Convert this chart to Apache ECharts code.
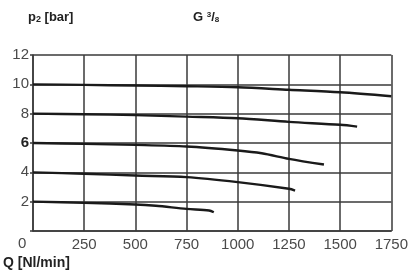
<!DOCTYPE html>
<html><head><meta charset="utf-8">
<script src="https://cdn.jsdelivr.net/npm/echarts@6/dist/echarts.min.js"></script>
<style>html,body{margin:0;padding:0;background:#fff}#c{width:411px;height:275px}</style>
</head><body><div id="c"></div>
<script>
const xTicks = [0, 250, 500, 750, 1000, 1250, 1500, 1750];
const yTicks = [0, 2, 4, 6, 8, 10, 12];
const flowQ = {
  p10: [0, 250, 500, 750, 1000, 1250, 1500, 1750],
  p8: [0, 250, 500, 750, 1000, 1250, 1500, 1583],
  p6: [0, 250, 500, 750, 1000, 1117, 1250, 1421],
  p4: [0, 250, 500, 750, 1000, 1250, 1280],
  p2: [0, 250, 500, 600, 750, 860, 883]
};
const p10 = [10, 9.96, 9.92, 9.87, 9.80, 9.63, 9.46, 9.19];
const p8 = [8, 7.96, 7.9, 7.8, 7.69, 7.44, 7.24, 7.12];
const p6 = [6, 5.94, 5.87, 5.76, 5.49, 5.3, 4.92, 4.53];
const p4 = [4, 3.9, 3.78, 3.67, 3.33, 2.88, 2.76];
const p2 = [2, 1.92, 1.81, 1.72, 1.51, 1.40, 1.28];

function pairs(xs, ys) { return xs.map((x, i) => [x, ys[i]]); }
const seriesDefs = [
  ['10 bar', flowQ.p10, p10], ['8 bar', flowQ.p8, p8], ['6 bar', flowQ.p6, p6],
  ['4 bar', flowQ.p4, p4], ['2 bar', flowQ.p2, p2]
];
const FF = 'Liberation Sans';
const chart = echarts.init(document.getElementById('c'), null, {renderer: 'canvas'});
chart.setOption({
  backgroundColor: '#fff',
  animation: false,
  grid: {left: 33, right: 18, top: 55, bottom: 44},
  xAxis: {
    type: 'value', min: 0, max: 1750, interval: 250,
    axisLine: {show: true, lineStyle: {color: '#3a3a3a', width: 1.5}},
    axisTick: {show: false},
    splitLine: {show: true, lineStyle: {color: '#3a3a3a', width: 1.5}},
    axisLabel: {color: '#4a4a4a', fontSize: 15, fontFamily: FF, margin: 6,
      formatter: v => v === 0 ? '' : String(v)}
  },
  yAxis: {
    type: 'value', min: 0, max: 12, interval: 2,
    axisLine: {show: true, lineStyle: {color: '#3a3a3a', width: 1.5}},
    axisTick: {show: true, length: 3, lineStyle: {color: '#3a3a3a', width: 1.5}},
    splitLine: {show: true, lineStyle: {color: '#3a3a3a', width: 1.5}},
    axisLabel: {
      color: '#4a4a4a', fontSize: 15, fontFamily: FF, margin: 4,
      formatter: v => v === 0 ? '' : (v === 6 ? '{b|6}' : String(v)),
      rich: {b: {fontWeight: 'bold', fontSize: 15, color: '#222', fontFamily: FF}}
    }
  },
  graphic: [
    {type: 'text', left: 28, top: 11, style: {
      text: '{a|p}{s|2}{a| [bar]}', rich: {
        a: {fontSize: 13, fontWeight: 'bold', fill: '#222', fontFamily: FF, verticalAlign: 'bottom'},
        s: {fontSize: 9, fontWeight: 'bold', fill: '#222', fontFamily: FF, verticalAlign: 'bottom'}
      }}},
    {type: 'text', left: 193, top: 11, style: {
      text: '{a|G }{s|3}{a|/}{t|8}', rich: {
        a: {fontSize: 13, fontWeight: 'bold', fill: '#222', fontFamily: FF},
        s: {fontSize: 8, fontWeight: 'bold', fill: '#222', fontFamily: FF, verticalAlign: 'top'},
        t: {fontSize: 8, fontWeight: 'bold', fill: '#222', fontFamily: FF, verticalAlign: 'bottom'}
      }}},
    {type: 'text', left: 3, top: 256, style: {
      text: 'Q [Nl/min]', fontSize: 14, fontWeight: 'bold', fill: '#222', fontFamily: FF}},
    {type: 'text', left: 18, top: 236, style: {
      text: '0', fontSize: 15, fill: '#4a4a4a', fontFamily: FF}}
  ],
  series: seriesDefs.map(([name, xs, ys]) => ({
    name, type: 'line', data: pairs(xs, ys), smooth: 0.3, symbol: 'none',
    lineStyle: {color: '#1a1a1a', width: 2.4}
  }))
});
</script></body></html>
